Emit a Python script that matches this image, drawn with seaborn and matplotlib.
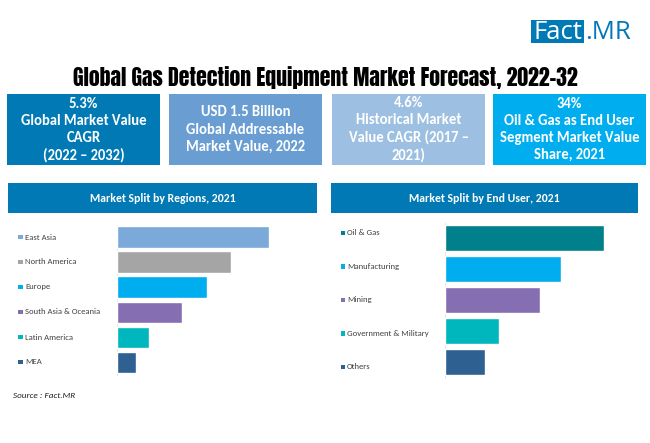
import matplotlib
matplotlib.use("Agg")
import matplotlib.pyplot as plt
import seaborn as sns
from matplotlib import font_manager as fm
from matplotlib.patches import Rectangle

regions = ["East Asia", "North America", "Europe", "South Asia & Oceania", "Latin America", "MEA"]
region_share = [32, 24, 19, 13.8, 6.9, 4]
region_colors = ["#7BA9DA", "#A5A5A5", "#00AEEF", "#866EB3", "#00B7BD", "#2E6192"]

end_users = ["Oil & Gas", "Manufacturing", "Mining", "Government & Military", "Others"]
end_user_share = [34, 24.9, 20.3, 11.5, 8.6]
end_user_colors = ["#00808A", "#00AEEF", "#866EB3", "#00B7BD", "#2E6192"]

title = "Global Gas Detection Equipment Market Forecast, 2022-32"
kpi_texts = [
    "5.3%\nGlobal Market Value\nCAGR\n(2022 – 2032)",
    "USD 1.5 Billion\nGlobal Addressable\nMarket Value, 2022",
    "4.6%\nHistorical Market\nValue CAGR (2017 –\n2021)",
    "34%\nOil & Gas as End User\nSegment Market Value\nShare, 2021",
]
kpi_colors = ["#0079B5", "#6A9ED2", "#9DBFE1", "#00AEEF"]

installed = {f.name for f in fm.fontManager.ttflist}


def pick(*names):
    return next((n for n in names if n in installed), "DejaVu Sans")


body_font = pick("Carlito", "Lato")
title_font = pick("Anton", "Special Gothic Condensed One", "Saira ExtraCondensed")

sns.set_theme(style="white")
plt.rcParams["font.family"] = [body_font, "DejaVu Sans"]

W, H = 650, 443
fig = plt.figure(figsize=(W / 100, H / 100), dpi=100, facecolor="white")

bg = fig.add_axes([0, 0, 1, 1])
bg.set_xlim(0, W)
bg.set_ylim(H, 0)
bg.axis("off")


def box(x0, x1, y0, y1, color, text, size, weight="bold"):
    bg.add_patch(Rectangle((x0, y0), x1 - x0, y1 - y0, fc=color, ec="none"))
    bg.text((x0 + x1) / 2, (y0 + y1) / 2, text, color="white", ha="center", va="center",
            fontsize=size, fontweight=weight, linespacing=1.28)


# logo
bg.add_patch(Rectangle((531, 20), 53, 23, fc="#0079B5", ec="none"))
bg.text(557.5, 32, "Fact", color="white", ha="center", va="center", fontsize=18.5, family="Open Sans")
bg.text(585, 32, ".MR", color="#0079B5", ha="left", va="center", fontsize=18.5, family="Open Sans")

# title
bg.text(325.5, 78, title, color="black", ha="center", va="center", fontsize=15.7, family=title_font)

# KPI boxes
kpi_spans = [(7, 160), (169, 322), (332, 485), (493, 646)]
for (x0, x1), c, t in zip(kpi_spans, kpi_colors, kpi_texts):
    box(x0, x1, 94, 165, c, t, 10.5)

# panel headers
box(8, 317, 183, 213, "#0079B5", "Market Split by Regions, 2021", 8.5)
box(331, 638, 183, 213, "#0079B5", "Market Split by End User, 2021", 8.5)

bg.text(13, 396, "Source : Fact.MR", color="#222222", ha="left", va="center", fontsize=6.6, style="italic")


def panel(cats, vals, colors, ax_x, ax_y0, ax_y1, px_per_unit, gap, sq_x, lab_x, lab_y0, lab_step):
    width_px = max(vals) * px_per_unit + 5
    ax = fig.add_axes([ax_x / W, 1 - ax_y1 / H, width_px / W, (ax_y1 - ax_y0) / H])
    ax.patch.set_alpha(0)
    sns.barplot(x=vals, y=cats, hue=cats, palette=colors, dodge=False, legend=False,
                width=gap, saturation=1, ax=ax, orient="h")
    ax.set_xlim(0, width_px / px_per_unit)
    ax.set_xticks([])
    ax.set_yticks([])
    ax.set_xlabel("")
    ax.set_ylabel("")
    for s in ["top", "right", "bottom"]:
        ax.spines[s].set_visible(False)
    ax.spines["left"].set_color("#E3E3E3")
    ax.spines["left"].set_linewidth(0.6)
    ax.spines["left"].set_zorder(0)
    for i, (cat, col) in enumerate(zip(cats, colors)):
        y = lab_y0 + lab_step * i
        bg.text(lab_x, y, cat, ha="left", va="center", fontsize=6.25, color="#404040")
        bg.add_patch(Rectangle((sq_x, y - 2.2), 4.5, 4.5, fc=col, ec="none"))
    return ax


panel(regions, region_share, region_colors, 116.5, 224.5, 375, 4.78, 0.86, 18, 25, 237, 25)
panel(end_users, end_user_share, end_user_colors, 445, 222.5, 377.5, 4.67, 0.84, 340.5, 347, 232.7, 33.5)

fig.savefig("out.png", dpi=100, facecolor="white")
